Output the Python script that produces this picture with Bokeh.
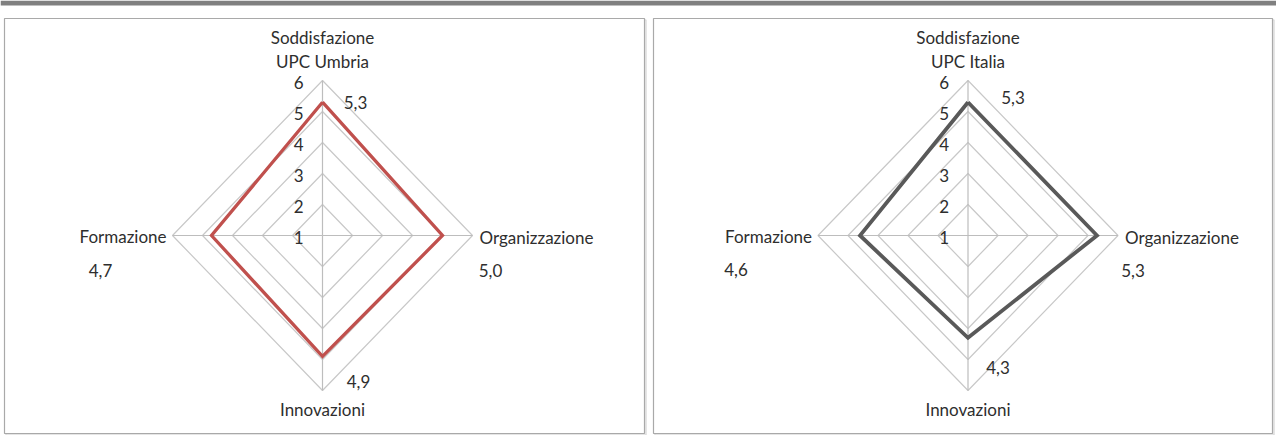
import numpy as np
from bokeh.plotting import figure
from bokeh.models import Range1d, ColumnDataSource
from bokeh.core.properties import value
from bokeh.embed import file_html
from bokeh.resources import INLINE

# ---------------- data ----------------
categories = ["Soddisfazione", "Organizzazione", "Innovazioni", "Formazione"]
umbria = [5.3, 5.0, 4.9, 4.7]
italia = [5.3, 5.3, 4.3, 4.6]
levels = [1, 2, 3, 4, 5, 6]
level_labels = ["1", "2", "3", "4", "5", "6"]
chart_titles = ["UPC Umbria", "UPC Italia"]
series = [umbria, italia]

# ---------------- layout / style ----------------
W, H = 1276, 435
FONT = value("Lato")
FS = "17px"
TXT = "#2e2e2e"
GRID = "#c8c8c8"
SPOKE = "#bdbdbd"
line_colors = ["#c0504d", "#595959"]
line_widths = [3.3, 3.8]
centers = [(322, 235), (967.5, 235)]
SX, SY = 30.0, 31.0          # px per value unit (horizontal / vertical)
base = levels[0]
dirs = np.array([(0, -1), (1, 0), (0, 1), (-1, 0)], dtype=float)  # screen directions
panels = [(4, 18, 644, 433), (653, 18, 1272, 433)]
# label offsets (px) relative to the data point, per chart
val_offsets = [
    [(33, 0), (48, 35), (36, 25), (-111, 35)],
    [(45, -5), (36, 35), (30, 30), (-124, 34)],
]

p = figure(width=W, height=H, x_range=Range1d(0, W), y_range=Range1d(H, 0),
           output_backend="svg", toolbar_location=None, min_border=0,
           background_fill_color="white", border_fill_color="white")
p.axis.visible = False
p.grid.visible = False
p.outline_line_color = None

# top gray bar
p.quad(left=[0], right=[W], top=[0], bottom=[5], fill_color="#808080", line_color=None)

# panel frames (with light shadow)
for (l, t, r, b) in panels:
    p.quad(left=[l + 1.5], right=[r + 1.5], top=[t + 1.5], bottom=[b + 1.5],
           fill_color=None, line_color="#dddddd", line_width=1.5)
    p.quad(left=[l], right=[r], top=[t], bottom=[b],
           fill_color="white", line_color="#a9a9a9", line_width=1.2)


def to_xy(cx, cy, vals):
    v = np.asarray(vals, dtype=float) - base
    xs = cx + dirs[:, 0] * v * SX
    ys = cy + dirs[:, 1] * v * SY
    return xs, ys


for ci, ((cx, cy), vals) in enumerate(zip(centers, series)):
    # grid diamonds
    gx, gy = [], []
    for lv in levels[1:]:
        xs, ys = to_xy(cx, cy, [lv] * 4)
        gx.append(list(xs) + [xs[0]])
        gy.append(list(ys) + [ys[0]])
    p.multi_line(gx, gy, line_color=GRID, line_width=1.2)
    # spokes
    xs6, ys6 = to_xy(cx, cy, [levels[-1]] * 4)
    p.multi_line([[cx, x] for x in xs6], [[cy, y] for y in ys6],
                 line_color=SPOKE, line_width=1.2)
    # level labels
    ly = [cy - (lv - base) * SY + 2 for lv in levels]
    p.text(x=[cx - 19] * len(levels), y=ly, text=level_labels,
           text_font=FONT, text_font_size=FS, text_color=TXT,
           text_align="right", text_baseline="middle")
    # series polygon
    xs, ys = to_xy(cx, cy, vals)
    p.line(list(xs) + [xs[0]], list(ys) + [ys[0]], line_color=line_colors[ci],
           line_width=line_widths[ci], line_join="miter")
    # value labels
    offs = val_offsets[ci]
    src = ColumnDataSource(dict(
        x=list(xs), y=list(ys),
        t=[f"{v:.1f}".replace(".", ",") for v in vals],
        dx=[o[0] for o in offs], dy=[o[1] for o in offs]))
    p.text(x="x", y="y", text="t", x_offset="dx", y_offset="dy", source=src,
           text_font=FONT, text_font_size=FS, text_color=TXT,
           text_align="center", text_baseline="middle")
    # category labels
    p.text(x=[cx, cx], y=[cy - 198, cy - 174],
           text=[categories[0], chart_titles[ci]],
           text_font=FONT, text_font_size=FS, text_color=TXT,
           text_align="center", text_baseline="middle")
    p.text(x=[xs6[1] + 7], y=[cy + 2], text=[categories[1]],
           text_font=FONT, text_font_size=FS, text_color=TXT,
           text_align="left", text_baseline="middle")
    p.text(x=[cx], y=[cy + 174], text=[categories[2]],
           text_font=FONT, text_font_size=FS, text_color=TXT,
           text_align="center", text_baseline="middle")
    p.text(x=[xs6[3] - 6], y=[cy + 1], text=[categories[3]],
           text_font=FONT, text_font_size=FS, text_color=TXT,
           text_align="right", text_baseline="middle")

open("out.html", "w").write(file_html(p, INLINE))
